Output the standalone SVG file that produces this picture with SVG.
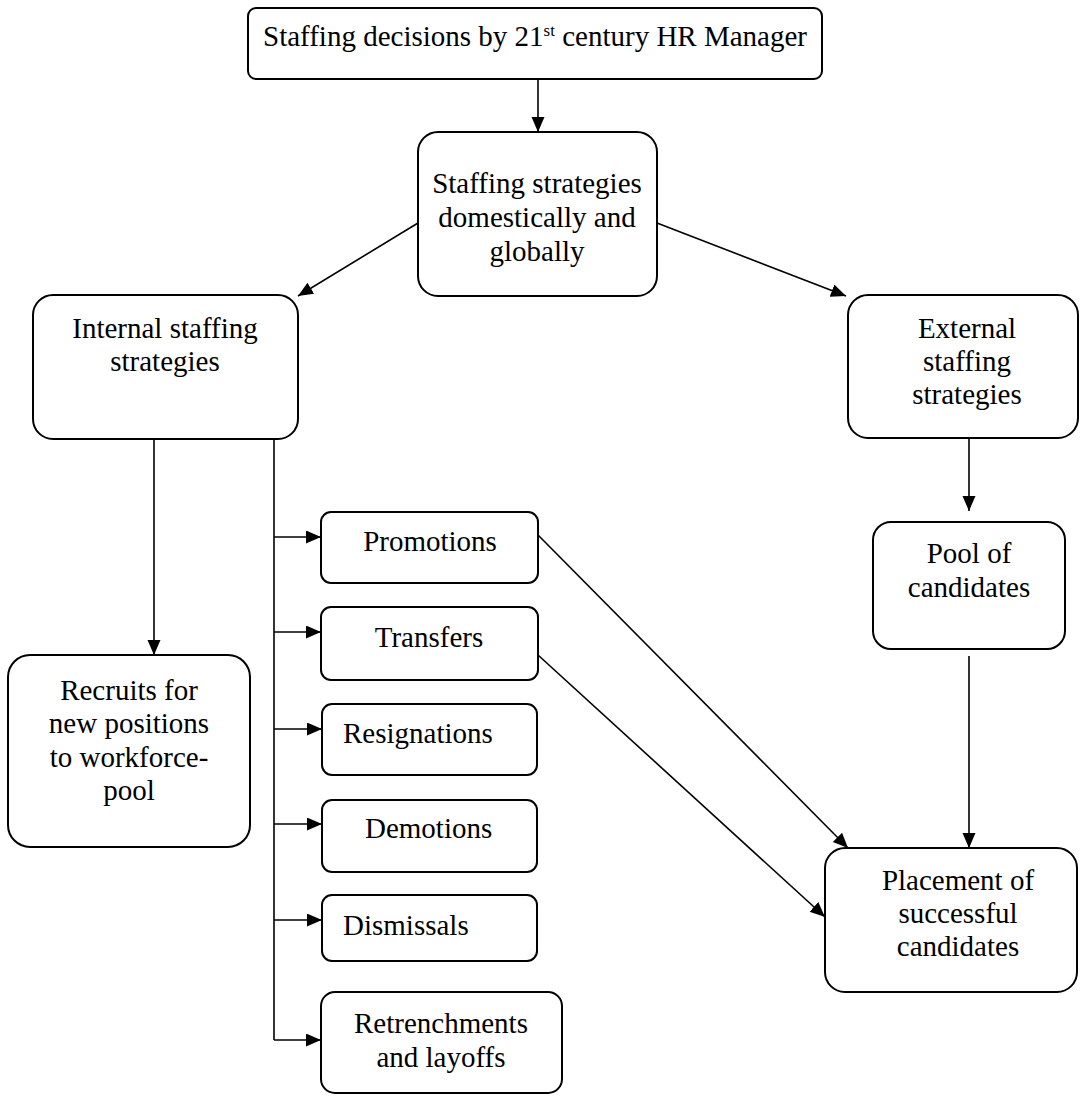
<svg xmlns="http://www.w3.org/2000/svg" width="1080" height="1096" viewBox="0 0 1080 1096">
<style>
  .box { fill: #ffffff; stroke: #000000; stroke-width: 2; }
  .t { font-family: "Liberation Serif", "Times New Roman", serif; font-size: 29px; fill: #000000; text-anchor: middle; }
  .ts { font-family: "Liberation Serif", "Times New Roman", serif; font-size: 29px; fill: #000000; text-anchor: start; }
  .c { stroke: #000000; stroke-width: 1.6; fill: none; }
  .ca { stroke: #000000; stroke-width: 1.6; fill: none; marker-end: url(#ah); }
</style>
<defs>
  <marker id="ah" markerUnits="userSpaceOnUse" markerWidth="16" markerHeight="14" refX="15" refY="6.5" orient="auto">
    <path d="M0,0 L15,6.5 L0,13 z" fill="#000000"/>
  </marker>
</defs>
<rect x="0" y="0" width="1080" height="1096" fill="#ffffff"/>

<g id="connectors">
  <line class="ca" x1="538" y1="79" x2="538" y2="132"/>
  <line class="ca" x1="418" y1="223" x2="298" y2="296"/>
  <line class="ca" x1="657" y1="223" x2="846" y2="296"/>
  <line class="ca" x1="154" y1="439" x2="154" y2="655"/>
  <line class="c" x1="274" y1="439" x2="274" y2="1040"/>
  <line class="ca" x1="274" y1="537" x2="321" y2="537"/>
  <line class="ca" x1="274" y1="632" x2="321" y2="632"/>
  <line class="ca" x1="274" y1="729" x2="322" y2="729"/>
  <line class="ca" x1="274" y1="824" x2="322" y2="824"/>
  <line class="ca" x1="274" y1="920" x2="322" y2="920"/>
  <line class="ca" x1="274" y1="1040" x2="321" y2="1040"/>
  <line class="ca" x1="969" y1="438" x2="969" y2="511"/>
  <line class="ca" x1="969" y1="656" x2="969" y2="848"/>
  <line class="ca" x1="538" y1="535" x2="848" y2="848"/>
  <line class="ca" x1="538" y1="655" x2="825" y2="917"/>
</g>

<g id="node-top">
  <rect class="box" x="248" y="8" width="574" height="71" rx="8"/>
  <text class="t" x="535" y="46">Staffing decisions by 21<tspan font-size="17" dy="-10">st</tspan><tspan dy="10"> century HR Manager</tspan></text>
</g>

<g id="node-strategies">
  <rect class="box" x="418" y="132" width="239" height="164" rx="20"/>
  <text class="t" x="537" y="193">Staffing strategies</text>
  <text class="t" x="537" y="227">domestically and</text>
  <text class="t" x="537" y="261">globally</text>
</g>

<g id="node-internal">
  <rect class="box" x="33" y="295" width="265" height="144" rx="20"/>
  <text class="t" x="165" y="338">Internal staffing</text>
  <text class="t" x="165" y="371">strategies</text>
</g>

<g id="node-external">
  <rect class="box" x="848" y="295" width="230" height="143" rx="20"/>
  <text class="t" x="967" y="338">External</text>
  <text class="t" x="967" y="371">staffing</text>
  <text class="t" x="967" y="404">strategies</text>
</g>

<g id="node-pool">
  <rect class="box" x="873" y="522" width="192" height="127" rx="18"/>
  <text class="t" x="969" y="563">Pool of</text>
  <text class="t" x="969" y="597">candidates</text>
</g>

<g id="node-recruits">
  <rect class="box" x="8" y="655" width="242" height="192" rx="22"/>
  <text class="t" x="129" y="700">Recruits for</text>
  <text class="t" x="129" y="733">new positions</text>
  <text class="t" x="129" y="767">to workforce-</text>
  <text class="t" x="129" y="800">pool</text>
</g>

<g id="node-promotions">
  <rect class="box" x="321" y="512" width="217" height="71" rx="10"/>
  <text class="t" x="430" y="551">Promotions</text>
</g>

<g id="node-transfers">
  <rect class="box" x="321" y="607" width="217" height="73" rx="10"/>
  <text class="t" x="429" y="647">Transfers</text>
</g>

<g id="node-resignations">
  <rect class="box" x="322" y="704" width="215" height="71" rx="10"/>
  <text class="ts" x="343" y="743">Resignations</text>
</g>

<g id="node-demotions">
  <rect class="box" x="322" y="800" width="215" height="72" rx="10"/>
  <text class="ts" x="365" y="838">Demotions</text>
</g>

<g id="node-dismissals">
  <rect class="box" x="322" y="895" width="215" height="66" rx="10"/>
  <text class="ts" x="343" y="935">Dismissals</text>
</g>

<g id="node-retrenchments">
  <rect class="box" x="321" y="992" width="241" height="101" rx="14"/>
  <text class="t" x="441" y="1033">Retrenchments</text>
  <text class="t" x="441" y="1067">and layoffs</text>
</g>

<g id="node-placement">
  <rect class="box" x="825" y="848" width="252" height="144" rx="20"/>
  <text class="t" x="958" y="890">Placement of</text>
  <text class="t" x="958" y="923">successful</text>
  <text class="t" x="958" y="956">candidates</text>
</g>
</svg>
